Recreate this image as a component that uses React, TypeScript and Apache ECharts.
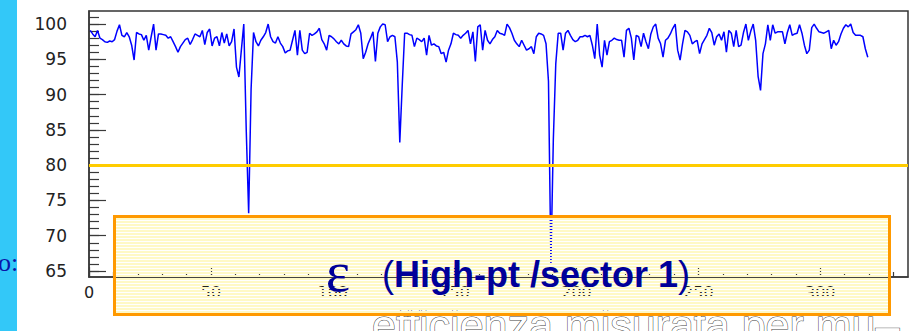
import React, { useEffect, useRef } from "react";
import * as echarts from "echarts";

// Efficiency per channel (bin index 0..319)
const efficiency: number[] = [
  99.1, 98.6, 98.2, 99.1, 98.0, 97.8, 97.5, 97.4, 97.6, 97.5,
  97.8, 99.0, 99.9, 98.4, 98.2, 98.8, 98.2, 97.0, 94.9, 98.8,
  98.6, 98.5, 97.7, 98.4, 96.3, 98.2, 100.0, 96.3, 98.6, 98.6,
  98.5, 98.4, 98.0, 98.2, 97.5, 96.8, 96.0, 96.8, 97.3, 97.8,
  98.0, 97.1, 97.8, 98.6, 98.4, 98.2, 99.1, 97.1, 98.8, 99.3,
  96.9, 98.0, 98.2, 96.9, 98.8, 97.3, 98.6, 96.9, 97.5, 99.3,
  93.9, 92.5, 96.3, 100.0, 85.1, 73.2, 90.8, 98.8, 97.5, 96.9,
  97.7, 98.2, 98.8, 100.0, 98.2, 97.5, 97.3, 98.2, 97.3, 96.8,
  95.9, 96.2, 96.3, 97.7, 99.1, 95.6, 99.1,
  96.3, 95.8, 96.0, 98.7, 98.4, 98.6, 98.9, 99.4, 97.8, 97.2,
  96.3, 98.4, 98.2, 97.9, 97.5, 97.2, 97.7, 97.2, 96.9, 96.8,
  98.6, 98.9, 99.2, 99.9, 98.7, 95.1, 96.0, 97.2, 98.0, 98.9,
  94.7, 98.7, 99.6, 100.0, 99.9, 97.5, 98.2, 98.4, 98.2, 94.6,
  83.2, 91.3, 98.7, 98.7, 98.5, 98.4, 96.8, 98.0, 97.8, 97.5,
  98.0, 95.6, 98.4, 97.0, 97.2, 96.9, 96.8, 95.8, 96.0, 94.6,
  96.3, 97.2, 98.7, 98.5, 98.4, 98.0, 98.4, 98.7, 99.1, 97.2,
  98.9, 94.7, 99.6, 99.9, 96.3, 99.1, 97.7, 97.2, 97.8, 98.2,
  99.1, 98.7, 98.6, 98.4, 100.0, 99.5, 98.7, 97.7, 97.2, 96.8,
  97.7, 97.0, 96.3, 96.5, 96.8, 95.8, 98.2, 98.7, 98.6, 98.4,
  97.2, 91.9, 66.0, 83.7, 94.4, 98.7, 98.7, 96.3, 98.7, 99.1,
  98.4, 97.8, 97.5, 97.7, 98.2, 98.2, 98.4, 98.2, 98.4, 97.0,
  95.1, 100.0, 95.6, 93.9, 97.7, 95.6, 97.5, 97.7, 98.0, 97.8,
  97.7,
  97.7, 95.3, 99.1, 99.4, 98.0, 94.9, 98.4, 98.2, 96.8, 98.7,
  97.5, 96.5, 98.6, 99.6, 100.0, 98.0, 97.2, 95.3, 97.7, 98.0,
  98.6, 99.4, 100.0, 96.3, 94.9, 97.2, 99.1, 98.9, 98.4, 97.2,
  97.5, 97.7, 95.8, 97.2, 97.8, 98.4, 99.4, 98.8, 97.0, 98.2,
  98.6, 97.7, 98.9, 96.0, 99.1, 98.7, 96.8, 99.1, 96.8, 97.0,
  98.8, 100.0, 97.7, 99.0, 100.0, 97.7, 92.6, 90.6, 95.8, 97.2,
  99.9, 97.7, 99.9, 98.7, 98.9, 98.9, 98.9, 97.2, 98.8, 99.9,
  98.4, 98.6, 98.7, 99.9, 98.7, 97.0, 95.8, 96.3, 99.5, 100.0,
  99.4, 98.9, 98.8, 98.7, 98.9, 99.1, 96.5, 97.7, 97.0, 97.5,
  98.6, 99.4, 99.9, 99.6, 100.0, 98.8, 98.4, 98.4, 98.4, 98.2,
  96.5, 95.3,
];

const yMajorTicks = [65, 70, 75, 80, 85, 90, 95, 100];
const yMinorTicks = [
  65, 66, 67, 68, 69, 70, 71, 72, 73, 74, 75, 76, 77, 78, 79, 80, 81, 82, 83,
  84, 85, 86, 87, 88, 89, 90, 91, 92, 93, 94, 95, 96, 97, 98, 99, 100, 101,
];
const xMajorTicks = [0, 50, 100, 150, 200, 250, 300];
const xMinorTicks = [
  0, 10, 20, 30, 40, 50, 60, 70, 80, 90, 100, 110, 120, 130, 140, 150, 160,
  170, 180, 190, 200, 210, 220, 230, 240, 250, 260, 270, 280, 290, 300, 310,
  320, 330,
];
const thresholdValue = 80;
const titleSymbol = "ε";
const titleText = "High-pt /sector 1";
const footerText = "efficienza misurata per mu–";
const sideText = "o:";

export default function App() {
  const ref = useRef<HTMLDivElement>(null);

  useEffect(() => {
    if (!ref.current) return;
    const chart = echarts.init(ref.current, null, { renderer: "svg" });

    const seriesData = efficiency.map((v, i) => [i + 0.5, v]);

    // striped (interlaced) yellow fill of the label box
    const stripes: any[] = [];
    for (let y = 218; y < 314; y += 3) {
      stripes.push({
        type: "rect",
        silent: true,
        z: 100,
        shape: { x: 116, y, width: 772, height: 2 },
        style: { fill: "#FFF9C6" },
      });
    }

    const axisColor = "#3a3a3a";

    chart.setOption({
      animation: false,
      backgroundColor: "#ffffff",
      grid: {
        left: 89,
        top: 11,
        width: 819,
        height: 266,
        show: true,
        borderColor: "#333",
        borderWidth: 1.5,
        containLabel: false,
        outerBoundsMode: "none",
      },
      xAxis: [
        {
          type: "value",
          position: "bottom",
          min: 0,
          max: 336,
          axisLine: { show: true, onZero: false, lineStyle: { color: axisColor, width: 1.5 } },
          axisTick: {
            show: true,
            inside: true,
            length: 10,
            customValues: xMajorTicks,
            lineStyle: { color: axisColor, width: 1.2 },
          },
          axisLabel: {
            show: true,
            customValues: xMajorTicks,
            color: "#222",
            fontFamily: "DejaVu Sans",
            fontSize: 16,
            margin: 7,
          },
          splitLine: { show: false },
        },
        {
          type: "value",
          position: "bottom",
          offset: 0,
          min: 0,
          max: 336,
          axisLine: { show: false, onZero: false },
          axisTick: {
            show: true,
            inside: true,
            length: 5,
            customValues: xMinorTicks,
            lineStyle: { color: axisColor, width: 1.2 },
          },
          axisLabel: { show: false },
          splitLine: { show: false },
        },
      ],
      yAxis: [
        {
          type: "value",
          position: "left",
          min: 64.15,
          max: 101.85,
          axisLine: { show: true, onZero: false, lineStyle: { color: axisColor, width: 1.5 } },
          axisTick: {
            show: true,
            inside: true,
            length: 17,
            customValues: yMajorTicks,
            lineStyle: { color: axisColor, width: 1.2 },
          },
          axisLabel: {
            show: true,
            customValues: yMajorTicks,
            color: "#222",
            fontFamily: "DejaVu Sans",
            fontSize: 17,
            margin: 22,
          },
          splitLine: { show: false },
        },
        {
          type: "value",
          position: "left",
          offset: 0,
          min: 64.15,
          max: 101.85,
          axisLine: { show: false, onZero: false },
          axisTick: {
            show: true,
            inside: true,
            length: 10,
            customValues: yMinorTicks,
            lineStyle: { color: axisColor, width: 1.2 },
          },
          axisLabel: { show: false },
          splitLine: { show: false },
        },
      ],
      series: [
        {
          type: "line",
          xAxisIndex: 0,
          yAxisIndex: 0,
          data: seriesData,
          showSymbol: false,
          symbol: "none",
          lineStyle: { color: "#0000ff", width: 1.5 },
          itemStyle: { color: "#0000ff" },
          z: 3,
          markLine: {
            silent: true,
            symbol: ["none", "none"],
            label: { show: false },
            lineStyle: { color: "#FFCC00", width: 3, type: "solid" },
            data: [{ yAxis: thresholdValue }],
          },
        },
      ],
      graphic: {
        elements: [
          {
            type: "rect",
            silent: true,
            z: 100,
            shape: { x: 0, y: 0, width: 17, height: 331 },
            style: { fill: "#33C8F8" },
          },
          {
            type: "text",
            silent: true,
            z: 101,
            x: -2,
            y: 262,
            style: {
              text: sideText,
              fontFamily: "Liberation Serif",
              fontSize: 26,
              fill: "#0a14a8",
              align: "left",
              verticalAlign: "middle",
            },
          },
          {
            type: "text",
            silent: true,
            z: 99,
            x: 372,
            y: 325,
            style: {
              text: footerText,
              fontFamily: "Liberation Sans",
              fontSize: 43,
              fill: "#ffffff",
              stroke: "#444444",
              lineWidth: 1,
              align: "left",
              verticalAlign: "middle",
            },
          },
          ...stripes,
          {
            type: "rect",
            silent: true,
            z: 101,
            shape: { x: 114.5, y: 216.5, width: 775, height: 98 },
            style: { fill: "none", stroke: "#FF9900", lineWidth: 3 },
          },
          {
            type: "text",
            silent: true,
            z: 102,
            x: 338,
            y: 271,
            style: {
              text: titleSymbol,
              fontFamily: "Liberation Serif",
              fontSize: 58,
              fill: "#000099",
              align: "center",
              verticalAlign: "middle",
            },
          },
          {
            type: "text",
            silent: true,
            z: 102,
            x: 382,
            y: 274,
            style: {
              text: "{p|(}{b|" + titleText + "}{p|)}",
              align: "left",
              verticalAlign: "middle",
              rich: {
                p: {
                  fontFamily: "Liberation Sans",
                  fontSize: 36,
                  fontWeight: "normal",
                  fill: "#000099",
                },
                b: {
                  fontFamily: "Liberation Sans",
                  fontSize: 36,
                  fontWeight: "bold",
                  fill: "#000099",
                },
              },
            },
          },
        ],
      },
    });

    return () => chart.dispose();
  }, []);

  return (
    <div
      ref={ref}
      style={{
        position: "fixed",
        left: 0,
        top: 0,
        width: 911,
        height: 331,
        background: "#ffffff",
      }}
    />
  );
}
